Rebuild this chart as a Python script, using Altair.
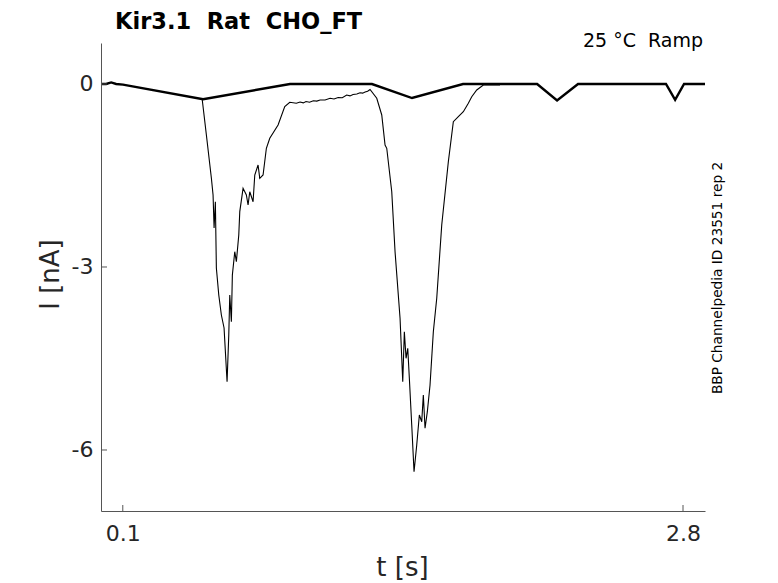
import altair as alt
import pandas as pd

# Thick trace (overlaid sweeps: baseline with small ramp dips)
thick_t = [0.0, 0.02, 0.044, 0.068, 0.101, 0.487, 0.906, 1.301, 1.494, 1.740,
           2.097, 2.193, 2.294, 2.718, 2.762, 2.805, 2.906]
thick_i = [0.0, 0.0, 0.025, 0.0, -0.01, -0.25, 0.0, 0.0, -0.23, 0.0,
           0.0, -0.27, 0.0, 0.0, -0.26, 0.0, 0.0]

# Thin trace (large inward currents)
thin_t = [0.4821, 0.5029, 0.5269, 0.5351, 0.5400, 0.5462, 0.5510, 0.5626, 0.5751, 0.5881,
          0.6026, 0.6108, 0.6156, 0.6233, 0.6281, 0.6397, 0.6474, 0.6590, 0.6638, 0.6797,
          0.6956, 0.7038, 0.7120, 0.7279, 0.7361, 0.7520, 0.7602, 0.7761, 0.7920, 0.8084,
          0.8484, 0.8806, 0.9047, 0.9365, 0.9544, 0.9700, 0.9830, 1.0000, 1.0185, 1.0350,
          1.0510, 1.0750, 1.0990, 1.1180, 1.1380, 1.1580, 1.1790, 1.1950, 1.2100, 1.2280,
          1.2435, 1.2560, 1.2680, 1.2800, 1.2917,
          1.3240, 1.3481, 1.3640, 1.3722, 1.3963, 1.4122, 1.4363, 1.4493, 1.4570, 1.4652,
          1.4734, 1.4811, 1.4926, 1.5037, 1.5167, 1.5293, 1.5408, 1.5485, 1.5567, 1.5678,
          1.5808, 1.5967, 1.6131, 1.6372, 1.6690, 1.6931, 1.7172, 1.7413, 1.7654, 1.7818,
          1.8059, 1.8377, 1.9180]
thin_i = [-0.234, -0.836, -1.541, -1.820, -2.361, -1.930, -3.016, -3.459, -3.787, -4.000,
          -4.880, -4.115, -3.459, -3.897, -3.131, -2.749, -2.913, -2.475, -2.093, -1.710,
          -1.820, -1.984, -1.766, -1.930, -1.492, -1.328, -1.546, -1.492, -1.054, -0.890,
          -0.672, -0.372, -0.300, -0.316, -0.295, -0.310, -0.287, -0.300, -0.274, -0.280,
          -0.262, -0.262, -0.234, -0.245, -0.221, -0.225, -0.180, -0.195, -0.172, -0.165,
          -0.143, -0.150, -0.131, -0.120, -0.090,
          -0.234, -0.508, -1.000, -1.054, -1.766, -2.749, -3.841, -4.880, -4.061, -4.497,
          -4.333, -4.825, -5.590, -6.356, -5.918, -5.426, -5.536, -5.098, -5.644, -5.372,
          -4.934, -4.061, -3.513, -2.311, -1.274, -0.618, -0.536, -0.454, -0.316, -0.208,
          -0.098, -0.016, -0.016]

x_ticks = [0.1, 2.8]
y_ticks = [0, -3, -6]

X_DOMAIN = [-0.005, 2.906]
Y_DOMAIN = [-7.0, 0.672]

W, H = 604, 468
AX = "#555555"
TXT = "#262626"
FONT = "DejaVu Sans"

thick = pd.DataFrame({"t": thick_t, "I": thick_i})
thin = pd.DataFrame({"t": thin_t, "I": thin_i})

xs = alt.Scale(domain=X_DOMAIN, nice=False, zero=False)
ys = alt.Scale(domain=Y_DOMAIN, nice=False, zero=False)

LBL = "datum.value < 0 ? '-' + format(-datum.value, '~g') : format(datum.value, '~g')"

x_axis = alt.Axis(values=x_ticks, title="t [s]", ticks=False, grid=False,
                  domainColor=AX, labelColor=TXT, labelFontSize=22, labelPadding=12,
                  labelFont=FONT, titleFont=FONT, titleFontSize=26, titleFontWeight="normal",
                  titleColor=TXT, titleX=301, titleY=56, titleBaseline="middle",
                  titleAlign="center", labelFlush=False, labelExpr=LBL)
y_axis = alt.Axis(values=y_ticks, title="I [nA]", ticks=False, grid=False,
                  domainColor=AX, labelColor=TXT, labelFontSize=22, labelPadding=8,
                  labelFont=FONT, titleFont=FONT, titleFontSize=26, titleFontWeight="normal",
                  titleColor=TXT, titleX=-51, titleY=231, titleAngle=270,
                  titleBaseline="middle", titleAlign="center", labelFlush=False,
                  labelExpr=LBL)

thin_line = alt.Chart(thin).mark_line(color="black", strokeWidth=1.1, clip=True).encode(
    x=alt.X("t:Q", scale=xs, axis=x_axis),
    y=alt.Y("I:Q", scale=ys, axis=y_axis),
    order="t:Q",
)
thick_line = alt.Chart(thick).mark_line(color="black", strokeWidth=2.4, clip=True).encode(
    x=alt.X("t:Q", scale=xs),
    y=alt.Y("I:Q", scale=ys),
    order="t:Q",
)

xt = alt.Chart(pd.DataFrame({"v": x_ticks})).mark_rule(color=AX, strokeWidth=1).encode(
    x=alt.X("v:Q", scale=xs), y=alt.value(H), y2=alt.value(H - 6))
yt = alt.Chart(pd.DataFrame({"v": y_ticks})).mark_rule(color=AX, strokeWidth=1).encode(
    y=alt.Y("v:Q", scale=ys), x=alt.value(0), x2=alt.value(6))

title = alt.Chart(pd.DataFrame({"s": ["Kir3.1\u00a0\u00a0Rat\u00a0\u00a0CHO_FT"]})).mark_text(
    font=FONT, fontSize=22.5, fontWeight="bold", color="black", align="left",
    baseline="alphabetic").encode(text="s:N", x=alt.value(14), y=alt.value(-14))
cond = alt.Chart(pd.DataFrame({"s": ["25 \u00b0C\u00a0\u00a0Ramp"]})).mark_text(
    font=FONT, fontSize=19, color="black", align="right",
    baseline="alphabetic").encode(text="s:N", x=alt.value(602), y=alt.value(4))
side = alt.Chart(pd.DataFrame({"s": ["BBP Channelpedia ID 23551 rep 2"]})).mark_text(
    font=FONT, fontSize=13.7, color="black", align="center", baseline="middle",
    angle=270).encode(text="s:N", x=alt.value(617), y=alt.value(235))

chart = alt.layer(thin_line, thick_line, xt, yt, title, cond, side).properties(
    width=W, height=H,
    background="white",
    autosize=alt.AutoSizeParams(type="none"),
    padding={"left": 93, "top": 35, "right": 50, "bottom": 72},
).configure_view(stroke=None)

chart.save("out.html", embed_options={"renderer": "svg", "actions": False})
